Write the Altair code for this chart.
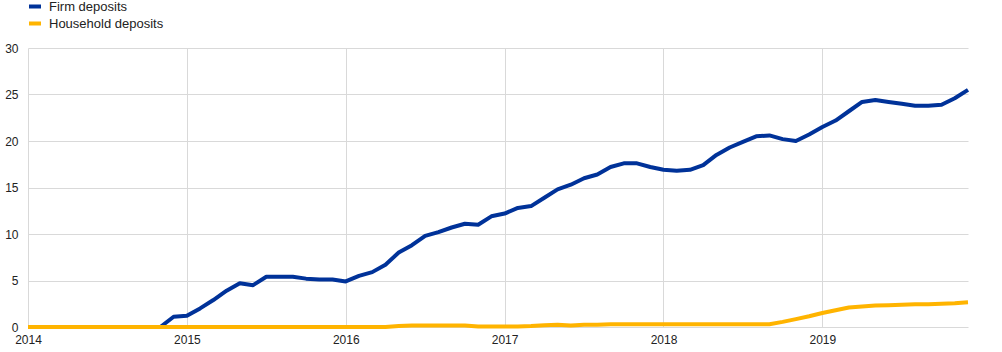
import altair as alt
import pandas as pd

years = [2014, 2015, 2016, 2017, 2018, 2019]
months = [f"{y}-{m:02d}" for y in years for m in range(1, 13)]

firm_deposits = [
    0, 0, 0, 0, 0, 0, 0, 0, 0, 0, 0, 1.1,
    1.2, 2.0, 2.9, 3.9, 4.7, 4.5, 5.4, 5.4, 5.4, 5.2, 5.1, 5.1,
    4.9, 5.5, 5.9, 6.7, 8.0, 8.8, 9.8, 10.2, 10.7, 11.1, 11.0, 11.9,
    12.2, 12.8, 13.0, 13.9, 14.8, 15.3, 16.0, 16.4, 17.2, 17.6, 17.6, 17.2,
    16.9, 16.8, 16.9, 17.4, 18.5, 19.3, 19.9, 20.5, 20.6, 20.2, 20.0, 20.7,
    21.5, 22.2, 23.2, 24.2, 24.4, 24.2, 24.0, 23.8, 23.8, 23.9, 24.6, 25.5,
]
household_deposits = [
    0, 0, 0, 0, 0, 0, 0, 0, 0, 0, 0, 0,
    0, 0, 0, 0, 0, 0, 0, 0, 0, 0, 0, 0,
    0, 0, 0, 0, 0.1, 0.15, 0.15, 0.15, 0.15, 0.15, 0.05, 0.05,
    0.05, 0.05, 0.1, 0.2, 0.25, 0.15, 0.25, 0.25, 0.3, 0.3, 0.3, 0.3,
    0.3, 0.3, 0.3, 0.3, 0.3, 0.3, 0.3, 0.3, 0.3, 0.55, 0.85, 1.15,
    1.5, 1.8, 2.1, 2.2, 2.3, 2.35, 2.4, 2.45, 2.45, 2.5, 2.55, 2.65,
]
series_names = ["Firm deposits", "Household deposits"]
series_colors = ["#003299", "#FFB400"]
y_ticks = [0, 5, 10, 15, 20, 25, 30]

rows = []
for name, vals in zip(series_names, [firm_deposits, household_deposits]):
    for mstr, v in zip(months, vals):
        y, m = mstr.split("-")
        rows.append({"series": name, "t": int(y) + (int(m) - 1) / 12, "value": v})
df = pd.DataFrame(rows)

FONT = "Liberation Sans"

chart = (
    alt.Chart(df)
    .mark_line(strokeWidth=4, strokeJoin="round", strokeCap="butt")
    .encode(
        x=alt.X(
            "t:Q",
            scale=alt.Scale(domain=[2014, 2019 + 11 / 12], nice=False, zero=False),
            axis=alt.Axis(
                values=years, format="d", title=None, ticks=False, domain=False,
                labelFlush=False, labelPadding=7, labelFontSize=12,
                labelColor="#222", labelFont=FONT,
                gridColor="#d9d9d9", gridWidth=1,
            ),
        ),
        y=alt.Y(
            "value:Q",
            scale=alt.Scale(domain=[0, 30], nice=False),
            axis=alt.Axis(
                values=y_ticks, title=None, ticks=False, domain=False,
                labelFlush=False, labelPadding=10, labelFontSize=12,
                labelColor="#222", labelFont=FONT,
                gridColor="#d9d9d9", gridWidth=1,
            ),
        ),
        color=alt.Color(
            "series:N",
            scale=alt.Scale(domain=series_names, range=series_colors),
            sort=series_names,
            legend=alt.Legend(
                title=None, orient="none", legendX=-1, legendY=-48,
                symbolType="stroke", symbolSize=144, symbolStrokeWidth=4,
                labelFontSize=13, labelFont=FONT, labelColor="#222",
                rowPadding=3, clipHeight=13, labelOffset=6, padding=0,
            ),
        ),
    )
    .properties(
        width=940,
        height=279,
        autosize=alt.AutoSizeParams(type="none"),
        padding={"left": 28, "top": 48, "right": 34, "bottom": 25},
    )
    .configure_view(stroke=None)
)

chart.save("out.html", embed_options={"renderer": "svg", "actions": False})
